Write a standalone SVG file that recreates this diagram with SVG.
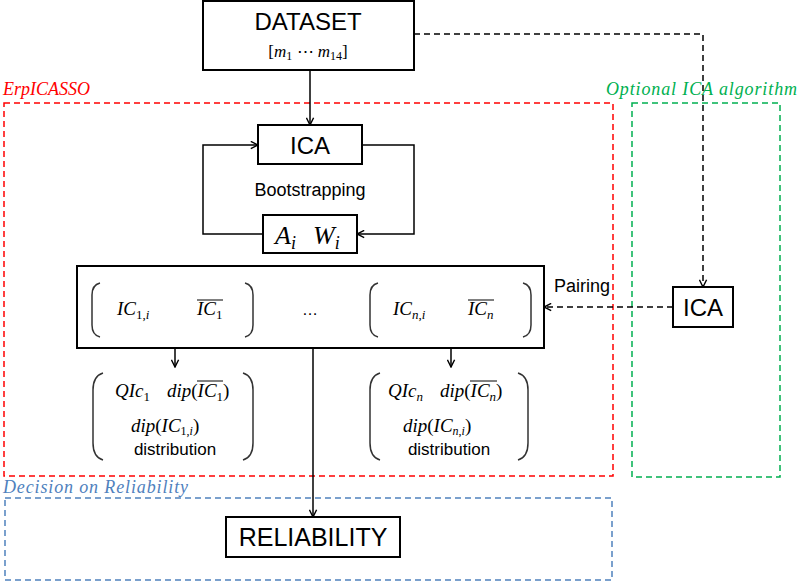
<svg xmlns="http://www.w3.org/2000/svg" width="800" height="582" viewBox="0 0 800 582">
<defs>
<style>
.box{fill:#fff;stroke:#000;stroke-width:2}
.ln{fill:none;stroke:#000;stroke-width:1.5}
.dl{fill:none;stroke:#000;stroke-width:1.5;stroke-dasharray:6,4}
.br{fill:none;stroke:#333;stroke-width:1.5}
.sans{font-family:"Liberation Sans",Arial,sans-serif;fill:#000}
.math{font-family:"Liberation Serif","Times New Roman",serif;font-style:italic;font-size:19px;fill:#000}
.up{font-style:normal}
.lbl{font-family:"Liberation Serif","Times New Roman",serif;font-style:italic;font-size:18px}
</style>
<marker id="ar" viewBox="0 0 10 10" refX="9" refY="5" markerWidth="9" markerHeight="9" orient="auto" markerUnits="userSpaceOnUse">
<path d="M1,1 L9,5 L1,9" fill="none" stroke="#000" stroke-width="1.6"/>
</marker>
</defs>

<g id="region-erpicasso">
<rect x="4" y="103" width="609" height="373" fill="none" stroke="#ff0000" stroke-width="1.5" stroke-dasharray="6,4"/>
<text class="lbl" x="3" y="95" fill="#ff0000">ErpICASSO</text>
</g>
<g id="region-optional">
<rect x="632" y="103" width="148" height="374" fill="none" stroke="#00b050" stroke-width="1.5" stroke-dasharray="6,4"/>
<text class="lbl" x="606" y="95" fill="#00b050" textLength="191" lengthAdjust="spacing">Optional ICA algorithm</text>
</g>
<g id="region-decision">
<rect x="5" y="498" width="607" height="82" fill="none" stroke="#4f81bd" stroke-width="1.5" stroke-dasharray="6,4"/>
<text class="lbl" x="3" y="493" fill="#4f81bd" textLength="185" lengthAdjust="spacing">Decision on Reliability</text>
</g>

<g id="connectors">
<line class="ln" x1="310" y1="70" x2="310" y2="125" marker-end="url(#ar)"/>
<polyline class="ln" points="263,234 203,234 203,145 258,145" marker-end="url(#ar)"/>
<polyline class="ln" points="362,145 414,145 414,234 357,234" marker-end="url(#ar)"/>
<line class="ln" x1="175" y1="333" x2="175" y2="367" marker-end="url(#ar)"/>
<line class="ln" x1="451" y1="333" x2="451" y2="367" marker-end="url(#ar)"/>
<line class="ln" x1="313" y1="348" x2="313" y2="517" marker-end="url(#ar)"/>
<polyline class="dl" points="414,34 703,34 703,287" marker-end="url(#ar)"/>
<line class="dl" x1="673" y1="307" x2="544" y2="307" marker-end="url(#ar)"/>
<text class="sans" x="554" y="292" font-size="18">Pairing</text>
</g>

<g id="dataset">
<rect class="box" x="203" y="1" width="211" height="69"/>
<text class="sans" x="308" y="30" font-size="24" text-anchor="middle">DATASET</text>
<text class="math" x="308" y="57" text-anchor="middle" style="font-size:17px"><tspan class="up">[</tspan>m<tspan class="up" font-size="12" dy="3">1</tspan><tspan class="up" dy="-3"> ⋯ </tspan>m<tspan class="up" font-size="12" dy="3">14</tspan><tspan class="up" dy="-3">]</tspan></text>
</g>

<g id="ica-main">
<rect class="box" x="258" y="125" width="104" height="39"/>
<text class="sans" x="310" y="154" font-size="24" text-anchor="middle">ICA</text>
</g>

<text id="bootstrapping" class="sans" x="310" y="196" font-size="18" text-anchor="middle">Bootstrapping</text>

<g id="aw">
<rect class="box" x="263" y="215" width="94" height="38"/>
<text class="math" x="275" y="244" style="font-size:26px">A<tspan font-size="18" dy="5">i</tspan></text>
<text class="math" x="313" y="244" style="font-size:26px">W<tspan font-size="18" dy="5">i</tspan></text>
</g>

<g id="pairs">
<rect class="box" x="77" y="266" width="467" height="82"/>
<path class="br" d="M100,283 Q92,285 92,295 V325 Q92,335 100,337"/>
<path class="br" d="M245,283 Q253,285 253,295 V325 Q253,335 245,337"/>
<text class="math" x="117" y="315">IC<tspan class="up" font-size="13" dy="4">1,</tspan><tspan font-size="13">i</tspan></text>
<text class="math" x="197" y="315">IC<tspan class="up" font-size="13" dy="4">1</tspan></text>
<line x1="197" y1="300" x2="223" y2="300" stroke="#000" stroke-width="1"/>
<text class="sans" x="310" y="315" font-size="16" text-anchor="middle">…</text>
<path class="br" d="M378,283 Q370,285 370,295 V325 Q370,335 378,337"/>
<path class="br" d="M523,283 Q531,285 531,295 V325 Q531,335 523,337"/>
<text class="math" x="393" y="315">IC<tspan font-size="13" dy="4">n</tspan><tspan class="up" font-size="13">,</tspan><tspan font-size="13">i</tspan></text>
<text class="math" x="468" y="315">IC<tspan font-size="13" dy="4">n</tspan></text>
<line x1="468" y1="300" x2="494" y2="300" stroke="#000" stroke-width="1"/>
</g>

<g id="stats-1">
<path class="br" d="M103,373 Q93,376 93,390 V443 Q93,457 103,460"/>
<path class="br" d="M243,373 Q253,376 253,390 V443 Q253,457 243,460"/>
<text class="math" x="115" y="397">QIc<tspan class="up" font-size="13" dy="4">1</tspan></text>
<text class="math" x="167" y="397">dip<tspan class="up">(</tspan>IC<tspan class="up" font-size="13" dy="4">1</tspan><tspan class="up" dy="-4">)</tspan></text>
<line x1="197" y1="381" x2="223" y2="381" stroke="#000" stroke-width="1"/>
<text class="math" x="131" y="432">dip<tspan class="up">(</tspan>IC<tspan class="up" font-size="12" dy="3">1,</tspan><tspan font-size="12">i</tspan><tspan class="up" dy="-3">)</tspan></text>
<text class="sans" x="175" y="455" font-size="17" text-anchor="middle">distribution</text>
</g>

<g id="stats-n">
<path class="br" d="M380,373 Q370,376 370,390 V443 Q370,457 380,460"/>
<path class="br" d="M518,373 Q528,376 528,390 V443 Q528,457 518,460"/>
<text class="math" x="388" y="397">QIc<tspan font-size="13" dy="4">n</tspan></text>
<text class="math" x="440" y="397">dip<tspan class="up">(</tspan>IC<tspan font-size="13" dy="4">n</tspan><tspan class="up" dy="-4">)</tspan></text>
<line x1="470" y1="381" x2="497" y2="381" stroke="#000" stroke-width="1"/>
<text class="math" x="403" y="432">dip<tspan class="up">(</tspan>IC<tspan font-size="12" dy="3">n</tspan><tspan class="up" font-size="12">,</tspan><tspan font-size="12">i</tspan><tspan class="up" dy="-3">)</tspan></text>
<text class="sans" x="449" y="455" font-size="17" text-anchor="middle">distribution</text>
</g>

<g id="ica-optional">
<rect class="box" x="673" y="287" width="60" height="40"/>
<text class="sans" x="703" y="316" font-size="24" text-anchor="middle">ICA</text>
</g>

<g id="reliability">
<rect class="box" x="226" y="517" width="174" height="40"/>
<text class="sans" x="313" y="546" font-size="25" text-anchor="middle">RELIABILITY</text>
</g>
</svg>
